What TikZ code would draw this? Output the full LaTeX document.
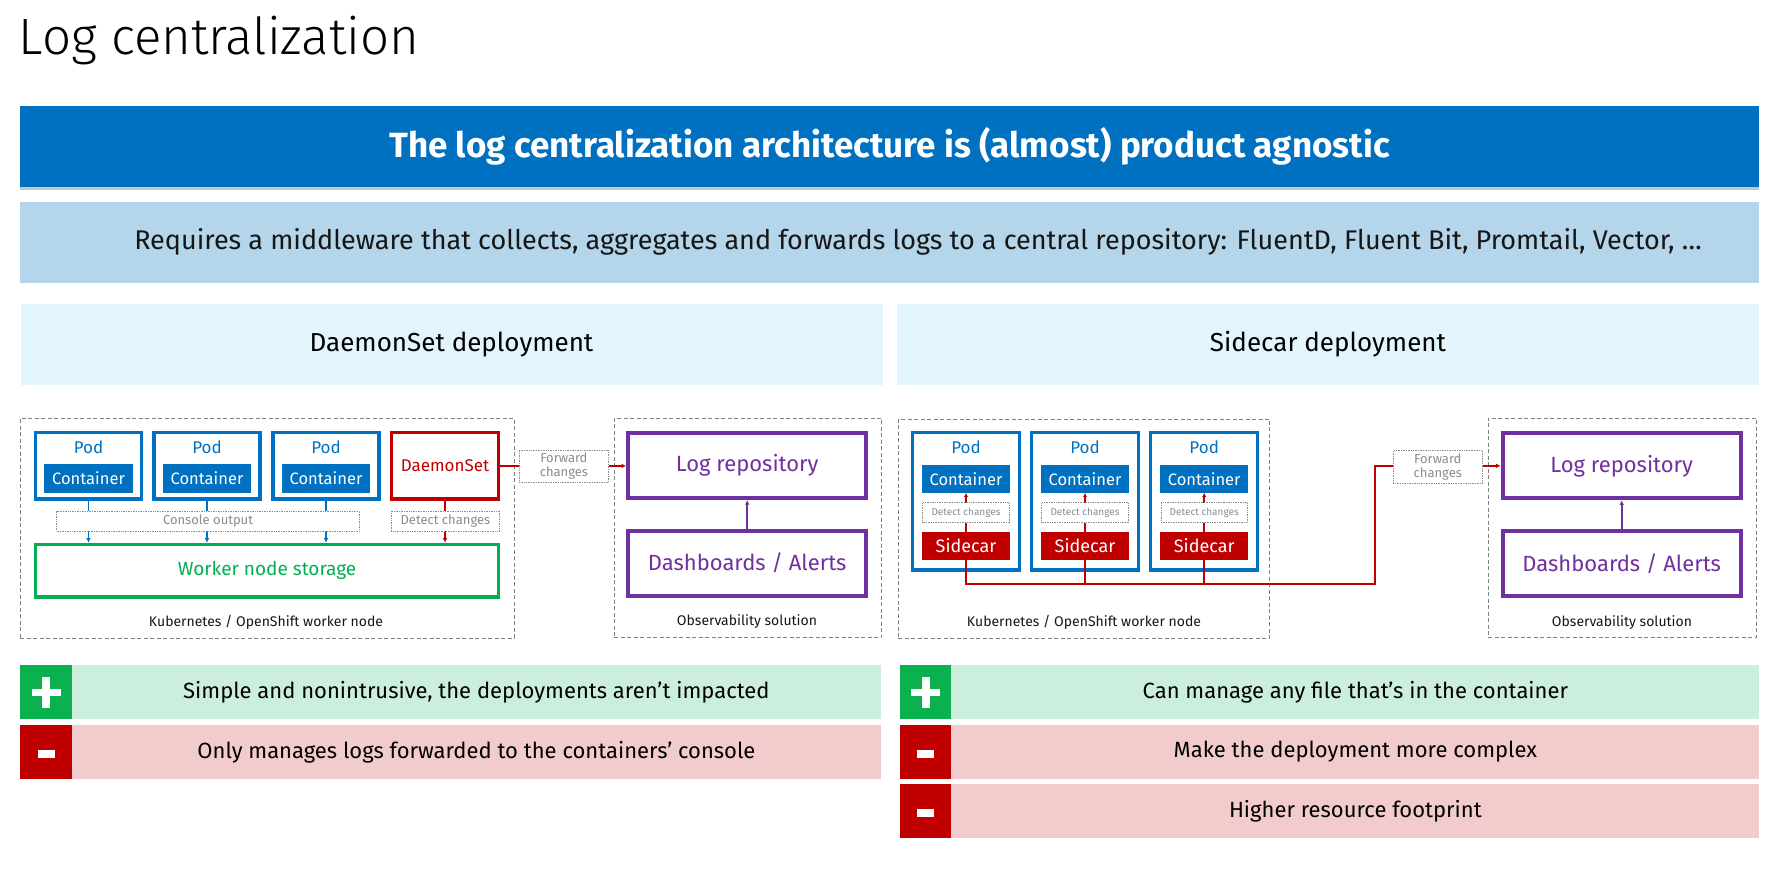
\documentclass[tikz,border=0pt]{standalone}
\usepackage{fontspec}
\setmainfont{Fira Sans}
\newfontfamily\lightfont{Fira Sans Light}
\usetikzlibrary{arrows.meta}

\definecolor{ibmblue}{RGB}{0,112,192}
\definecolor{hdrlight}{RGB}{180,213,234}
\definecolor{secbg}{RGB}{227,245,252}
\definecolor{ibmred}{RGB}{192,0,0}
\definecolor{ibmgreen}{RGB}{0,176,80}
\definecolor{ibmpurple}{RGB}{112,48,160}
\definecolor{dashgray}{RGB}{128,128,128}
\definecolor{hintgray}{RGB}{140,140,140}
\definecolor{progreen}{RGB}{11,176,79}
\definecolor{prolight}{RGB}{204,238,220}
\definecolor{conlight}{RGB}{242,203,204}
\definecolor{inkdark}{RGB}{22,22,22}

\tikzset{
  every node/.style={inner sep=0pt, outer sep=0pt},
  fs/.style={font=\fontsize{#1}{#1}\selectfont},
  zone/.style={draw=dashgray, dash pattern=on 4pt off 2.5pt, line width=0.9pt},
  zonelabel/.style={fs=14, text=inkdark},
  podbox/.style={draw=ibmblue, line width=3.3pt, fill=white},
  podlabel/.style={text=ibmblue, fs=17},
  contbox/.style={fill=ibmblue, text=white, fs=16.5},
  dsbox/.style={draw=ibmred, line width=3.3pt, fill=white, text=ibmred, fs=17,
    minimum width=107pt, minimum height=66.4pt},
  carbox/.style={fill=ibmred, text=white, fs=18, minimum width=87.7pt, minimum height=28pt},
  hintbox/.style={draw=hintgray, densely dotted, line width=0.7pt, fill=white, text=hintgray},
  storebox/.style={draw=ibmgreen, line width=3.5pt, fill=white, text=ibmgreen, fs=19},
  obsbox/.style={draw=ibmpurple, line width=4pt, fill=white, text=ibmpurple, fs=22,
    minimum width=238pt, minimum height=65pt},
  tip/.style={-{Latex[length=4.5pt,width=4.5pt]}},
  bluearrow/.style={draw=ibmblue, line width=1.4pt, tip, shorten >=1.75pt},
  redline/.style={draw=ibmred, line width=1.5pt},
  redarrow/.style={redline, tip},
  purplearrow/.style={draw=ibmpurple, line width=2pt, tip, shorten >=2pt},
  secbar/.style={fill=secbg, minimum width=862pt, minimum height=81pt, fs=26, text=black},
  iconbox/.style={minimum width=52pt, minimum height=54pt},
  rowbar/.style={minimum height=54pt, fs=22, text=black},
}

\begin{document}
\begin{tikzpicture}[x=1pt,y=-1pt]
\useasboundingbox (0,0) rectangle (1781,879);

% ---------- title and banners ----------
\node[anchor=base west, font=\fontsize{51}{51}\lightfont] (title) at (19,54) {Log centralization};

\fill[black!22] (20,187.3) rectangle (1759,189.8);
\node[fill=ibmblue, minimum width=1739pt, minimum height=81.3pt, text=white,
      font=\fontsize{35}{35}\selectfont\bfseries] (banner) at (889.5,146.7)
      {The log centralization architecture is (almost) product agnostic};
\node[fill=hdrlight, minimum width=1739pt, minimum height=80.7pt] (middleware) at (889.5,242.3) {};
\node[fs=27, text=inkdark] (middlewaretxt) at (918,242.3)
      {Requires a middleware that collects, aggregates and forwards logs to a central repository: FluentD, Fluent Bit, Promtail, Vector, …};

\node[secbar] (dsHead) at (451.5,344.5) {DaemonSet deployment};
\node[secbar] (scHead) at (1328,344.5) {Sidecar deployment};

% ---------- DaemonSet deployment ----------
\node[zone, minimum width=494pt, minimum height=220pt] (worker1) at (267,528) {};
\node[zonelabel] (worker1lab) at (266,622) {Kubernetes / OpenShift worker node};

\foreach \i/\x in {1/88.5, 2/207, 3/326}{
  \node[podbox, minimum width=106pt, minimum height=66.4pt] (pod\i) at (\x,465.9) {};
  \node[podlabel] (pod\i lab) at (\x,447.7) {Pod};
  \node[contbox, minimum width=88.5pt, minimum height=28.7pt] (cont\i) at (\x,478.3) {Container};
}
\node[dsbox] (ds) at (445,465.9) {DaemonSet};

\node[storebox, minimum width=463pt, minimum height=52.5pt] (store) at (267,570.7) {Worker node storage};

\node[zone, minimum width=267.4pt, minimum height=219.7pt] (obs1) at (748,527.9) {};
\node[zonelabel] (obs1lab) at (747,622) {Observability solution};
\node[obsbox] (repo1) at (747.2,465.5) {Log repository};
\node[obsbox] (dash1) at (747.2,563) {Dashboards / Alerts};

% ---------- Sidecar deployment ----------
\node[zone, minimum width=371.7pt, minimum height=219pt] (worker2) at (1084,528.5) {};
\node[zonelabel] (worker2lab) at (1084,622) {Kubernetes / OpenShift worker node};

\foreach \i/\x in {1/966, 2/1085, 3/1204.2}{
  \node[podbox, minimum width=107pt, minimum height=137.4pt] (spod\i) at (\x,501.3) {};
  \node[podlabel] (spod\i lab) at (\x,447.7) {Pod};
  \node[contbox, minimum width=87.7pt, minimum height=27.4pt] (scont\i) at (\x,479) {Container};
  \node[carbox] (car\i) at (\x,546) {Sidecar};
}

\node[zone, minimum width=267.7pt, minimum height=219.7pt] (obs2) at (1622.2,527.9) {};
\node[zonelabel] (obs2lab) at (1622,622.3) {Observability solution};
\node[obsbox] (repo2) at (1621.7,465.8) {Log repository};
\node[obsbox] (dash2) at (1621.7,563.8) {Dashboards / Alerts};

\coordinate (busturn) at (1375,584);

% ---------- connectors ----------
\foreach \i in {1,2,3}{
  \draw[bluearrow] (pod\i.south) -- (pod\i.south |- store.north);
}
\draw[redarrow, shorten >=1.75pt] (ds.south) -- (ds.south |- store.north);
\draw[redarrow, shorten >=2pt] (ds.east) -- (ds.east -| repo1.west);
\draw[purplearrow] (dash1.north) -- (repo1.south);

\foreach \i in {1,2,3}{
  \draw[redarrow] (car\i.north) -- (scont\i.south);
}
\draw[redarrow, shorten >=2pt] (car1.south) |- (busturn) |- (repo2.west);
\draw[redline] (car2.south) -- (car2.south |- busturn);
\draw[redline] (car3.south) -- (car3.south |- busturn);
\draw[purplearrow] (dash2.north) -- (repo2.south);

% ---------- labels laid over the connectors ----------
\node[hintbox, minimum width=303pt, minimum height=20pt, fs=13] (console) at (208,521) {Console output};
\node[hintbox, minimum width=108pt, minimum height=20pt, fs=13] (dsdetect) at (445.4,521) {Detect changes};
\node[hintbox, minimum width=89.7pt, minimum height=32pt, align=center,
      font=\fontsize{13}{14.5}\selectfont] (fwd1) at (563.9,466) {Forward\\changes};
\foreach \i/\x in {1/966, 2/1085, 3/1204.2}{
  \node[hintbox, minimum width=86.7pt, minimum height=20pt, fs=10] (sdetect\i) at (\x,512.7) {Detect changes};
}
\node[hintbox, minimum width=89pt, minimum height=32.6pt, align=center,
      font=\fontsize{13}{14.5}\selectfont] (fwd2) at (1437.8,467) {Forward\\changes};

% ---------- pros and cons ----------
\node[iconbox, fill=progreen] (proL) at (46,692) {};
\node[rowbar, fill=prolight, minimum width=809.2pt] (proLtxt) at (476.4,692)
  {Simple and nonintrusive, the deployments aren’t impacted};
\node[iconbox, fill=ibmred] (conL) at (46,752) {};
\node[rowbar, fill=conlight, minimum width=809.2pt] (conLtxt) at (476.4,752)
  {Only manages logs forwarded to the containers’ console};

\node[iconbox, fill=progreen, minimum width=51.4pt] (proR) at (925.7,692) {};
\node[rowbar, fill=prolight, minimum width=807.9pt] (proRtxt) at (1355.35,692)
  {Can manage any file that’s in the container};
\node[iconbox, fill=ibmred, minimum width=51.4pt] (conR1) at (925.7,752) {};
\node[rowbar, fill=conlight, minimum width=807.9pt] (conR1txt) at (1355.35,752)
  {Make the deployment more complex};
\node[iconbox, fill=ibmred, minimum width=51.4pt, minimum height=53.7pt] (conR2) at (925.7,810.9) {};
\node[rowbar, fill=conlight, minimum width=807.9pt, minimum height=53.7pt] (conR2txt) at (1355.35,810.9)
  {Higher resource footprint};

% plus and minus glyphs
\foreach \n in {proL,proR}{
  \fill[white, shift={(\n.center)}] (-14.5,-3.5) rectangle (14.5,3.5);
  \fill[white, shift={(\n.center)}] (-4,-15.5) rectangle (4,15.5);
}
\foreach \n in {conL,conR1,conR2}{
  \fill[white, shift={(\n.center)}] (-8.5,-2) rectangle (8.5,6);
}
\end{tikzpicture}
\end{document}
